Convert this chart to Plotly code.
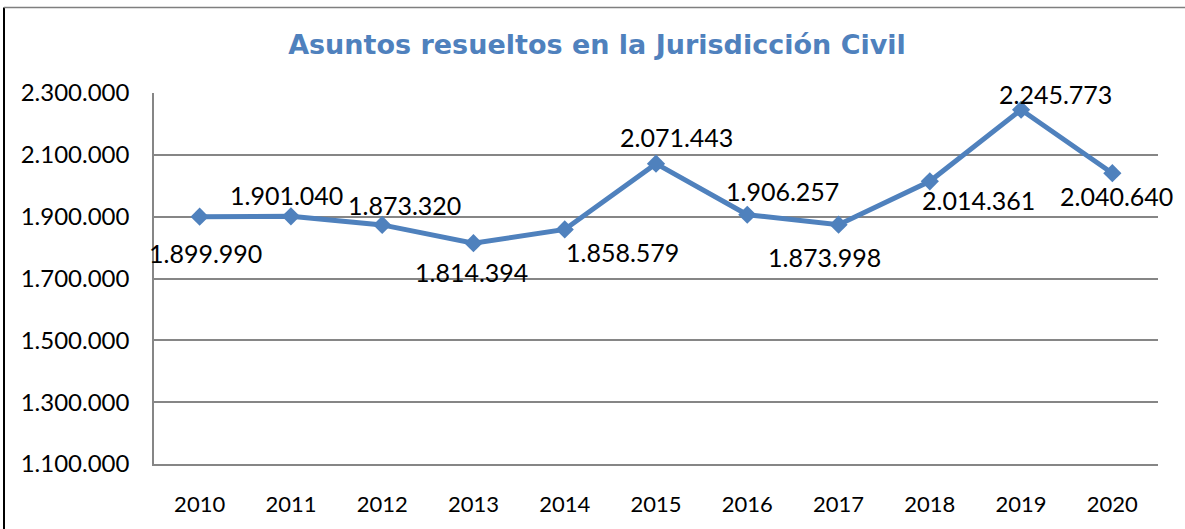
import plotly.graph_objects as go

years = [2010, 2011, 2012, 2013, 2014, 2015, 2016, 2017, 2018, 2019, 2020]
resueltos = [1899990, 1901040, 1873320, 1814394, 1858579, 2071443, 1906257, 1873998, 2014361, 2245773, 2040640]
labels = ["1.899.990", "1.901.040", "1.873.320", "1.814.394", "1.858.579", "2.071.443",
          "1.906.257", "1.873.998", "2.014.361", "2.245.773", "2.040.640"]
y_ticks = [1100000, 1300000, 1500000, 1700000, 1900000, 2100000, 2300000]
y_ticktext = ["1.100.000", "1.300.000", "1.500.000", "1.700.000", "1.900.000", "2.100.000", "2.300.000"]

# label offsets in pixels (style, not data)
label_dx = [6, -4, 22, -2, 58, 20, 35, -14, 49, 34, 4]
label_dy = [-36, 21, 20, -29, -23, 27, 24, -32, -19, 16, -23]

BLUE = "#4F81BD"
FONT = "Lato"
GRID = "#868686"

fig = go.Figure()
fig.add_trace(go.Scatter(
    x=years, y=resueltos, mode="lines+markers",
    line=dict(color=BLUE, width=5),
    marker=dict(symbol="diamond", size=14, color=BLUE),
    hoverinfo="x+y", showlegend=False,
))

for x, y, t, dx, dy in zip(years, resueltos, labels, label_dx, label_dy):
    fig.add_annotation(x=x, y=y, xref="x", yref="y", text=t, showarrow=False,
                       xshift=dx, yshift=dy,
                       font=dict(family=FONT, size=25, color="#000000"),
                       xanchor="center", yanchor="middle")

W, H = 1185, 529
L, R, T, B = 154, 27, 93, 63
pw, ph = W - L - R, H - T - B

def px_x(p):
    return (p - L) / pw

def px_y(p):
    return (H - B - p) / ph

fig.add_shape(type="line", xref="paper", yref="paper",
              x0=px_x(4), x1=px_x(4), y0=px_y(7), y1=px_y(540),
              line=dict(color="#000000", width=2))
fig.add_shape(type="line", xref="paper", yref="paper",
              x0=px_x(4), x1=px_x(1190), y0=px_y(7), y1=px_y(7),
              line=dict(color="#7F7F7F", width=1.5))

fig.update_layout(
    width=W, height=H,
    margin=dict(l=L, r=R, t=T, b=B),
    paper_bgcolor="white", plot_bgcolor="white",
    title=dict(text="<b>Asuntos resueltos en la Jurisdicción Civil</b>",
               x=597 / W, xref="container", xanchor="center",
               y=1 - 45 / H, yref="container", yanchor="middle",
               font=dict(family="DejaVu Sans", size=27, color=BLUE)),
    font=dict(family=FONT, color="#000000"),
)
fig.update_xaxes(type="linear", range=[2009.5, 2020.5], tickmode="array",
                 tickvals=years, ticktext=[str(y) for y in years],
                 showgrid=False, showline=True, linecolor=GRID, linewidth=1.5,
                 zeroline=False, ticks="",
                 tickfont=dict(family=FONT, size=22, color="#000000"),
                 ticklabelstandoff=20)
fig.update_yaxes(range=[1100000, 2300000], tickvals=y_ticks, ticktext=y_ticktext,
                 showgrid=True, gridcolor=GRID, gridwidth=1.5,
                 showline=True, linecolor=GRID, linewidth=1.5,
                 zeroline=False, ticks="",
                 tickfont=dict(family=FONT, size=24, color="#000000"),
                 ticklabelstandoff=18)

fig.write_html("out.html", config={"displayModeBar": False},
               post_script="document.body.style.margin='0';document.body.style.overflow='hidden';")
